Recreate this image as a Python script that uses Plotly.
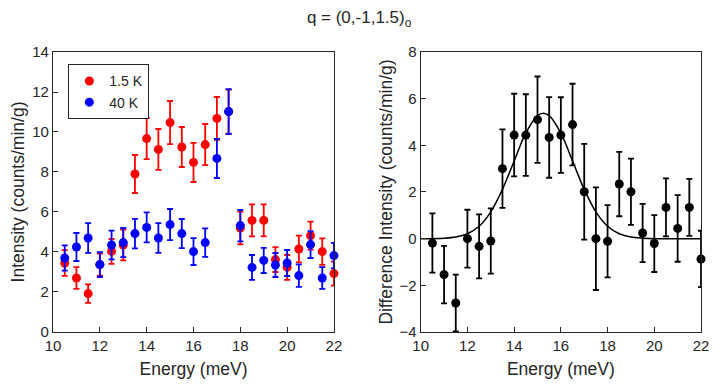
"""
Spectres en énergie à q = (0,-1,1.5)o : intensités brutes et différence.
"""

import plotly.graph_objects as go

# Energies (meV)
energy = [10.5, 11.0, 11.5, 12.0, 12.5, 13.0, 13.5, 14.0, 14.5, 15.0, 15.5, 16.0,
          16.5, 17.0, 17.5, 18.0, 18.5, 19.0, 19.5, 20.0, 20.5, 21.0, 21.5, 22.0]

# 1.5 K
int_low = [3.45, 2.70, 1.92, 3.37, 4.03, 4.35, 7.90, 9.67, 9.13, 10.47, 9.25, 8.48,
           9.37, 10.68, 11.02, 5.20, 5.58, 5.58, 3.62, 3.23, 4.15, 4.82, 4.02, 2.92]
err_low = [0.64, 0.54, 0.46, 0.55, 0.62, 0.77, 0.95, 1.03, 1.02, 1.08, 1.00, 0.98,
           1.03, 1.07, 1.10, 0.82, 0.80, 0.80, 0.62, 0.62, 0.67, 0.70, 0.66, 0.60]

# 40 K
int_high = [3.70, 4.25, 4.70, 3.37, 4.35, 4.47, 4.92, 5.23, 4.70, 5.37, 4.92, 4.02,
            4.47, 8.68, 11.02, 5.32, 3.23, 3.58, 3.35, 3.45, 2.82, 4.37, 2.70, 3.82]
err_high = [0.63, 0.70, 0.74, 0.62, 0.72, 0.73, 0.74, 0.75, 0.74, 0.78, 0.73, 0.67,
            0.71, 0.98, 1.12, 0.79, 0.62, 0.63, 0.60, 0.65, 0.56, 0.67, 0.54, 0.64]

# Différence 1.5 K - 40 K
diff = [-0.19, -1.54, -2.76, 0.00, -0.33, -0.10, 3.00, 4.44, 4.44, 5.10, 4.34, 4.44,
        4.89, 2.01, 0.00, -0.11, 2.34, 2.01, 0.24, -0.21, 1.34, 0.44, 1.34, -0.87]
err_diff = [1.27, 1.23, 1.22, 1.24, 1.37, 1.40, 1.68, 1.77, 1.75, 1.85, 1.73, 1.62,
            1.75, 2.05, 2.20, 1.55, 1.38, 1.42, 1.25, 1.22, 1.24, 1.43, 1.22, 1.21]

# Ajustement gaussien
fit_energy = [10.0, 11.0, 11.5, 12.0, 12.5, 13.0, 13.5, 14.0, 14.5, 15.0, 15.25,
              15.5, 16.0, 16.5, 17.0, 17.5, 18.0, 18.5, 19.0, 19.5, 20.0, 22.0]
fit_int = [0.00, 0.02, 0.07, 0.21, 0.53, 1.15, 2.11, 3.33, 4.52, 5.27, 5.37,
           5.27, 4.52, 3.33, 2.11, 1.15, 0.53, 0.21, 0.07, 0.02, 0.00, 0.00]

TEXT = '#262626'
FONT = 'Liberation Sans, Arial, sans-serif'

fig = go.Figure()


def add_points(x, y, err, color, name, xaxis, yaxis, legend=True):
    fig.add_trace(go.Scatter(
        x=x, y=y, mode='markers', name=name, showlegend=legend,
        xaxis=xaxis, yaxis=yaxis, cliponaxis=False,
        marker=dict(color=color, size=9, line=dict(width=0)),
        error_y=dict(type='data', array=err, color=color, thickness=1.8, width=3),
    ))


add_points(energy, int_low, err_low, '#ff0000', '1.5 K', 'x', 'y')
add_points(energy, int_high, err_high, '#0000ff', '40 K', 'x', 'y')

fig.add_trace(go.Scatter(
    x=fit_energy, y=fit_int, mode='lines', line=dict(color='black', width=1.5, shape='spline'),
    xaxis='x2', yaxis='y2', showlegend=False,
))
add_points(energy, diff, err_diff, 'black', 'diff', 'x2', 'y2', legend=False)

axis_style = dict(
    showline=True, mirror=True, linecolor=TEXT, linewidth=1.3,
    ticks='inside', ticklen=5, tickcolor=TEXT, showgrid=False, zeroline=False,
    automargin=False,
    tickfont=dict(size=15, color=TEXT), title_font=dict(size=17.5, color=TEXT),
)

# la page a une marge de 8 px : domaines décalés en conséquence
fig.update_layout(
    width=718, height=384,
    margin=dict(l=0, r=0, t=0, b=0, autoexpand=False),
    paper_bgcolor='white', plot_bgcolor='white',
    font=dict(family=FONT, color=TEXT),
    title=dict(text='q = (0,-1,1.5)<sub>o</sub>', x=0.489, xanchor='center',
               y=0.976, yanchor='middle', font=dict(size=17, color=TEXT)),
    xaxis=dict(domain=[0.0627, 0.454], range=[10, 22], dtick=2,
               title=dict(text='Energy (meV)', standoff=9), **axis_style),
    yaxis=dict(domain=[0.1563, 0.8854], range=[0, 14], dtick=2,
               title=dict(text='Intensity (counts/min/g)', standoff=5), **axis_style),
    xaxis2=dict(domain=[0.5748, 0.9652], range=[10, 22], dtick=2, anchor='y2',
                title=dict(text='Energy (meV)', standoff=9), **axis_style),
    yaxis2=dict(domain=[0.1563, 0.8854], range=[-4, 8], dtick=2, anchor='x2',
                title=dict(text='Difference Intensity (counts/min/g)', standoff=2), **axis_style),
    legend=dict(x=0.0836, y=0.854, xanchor='left', yanchor='top',
                bordercolor=TEXT, borderwidth=1.3, bgcolor='white',
                font=dict(size=14, color=TEXT), itemwidth=30, tracegroupgap=0),
)

fig.write_html("out.html")
